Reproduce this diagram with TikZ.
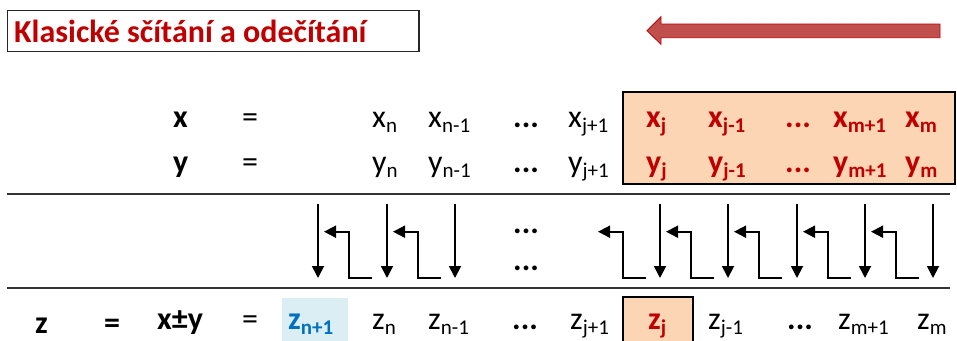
\documentclass[tikz,border=0pt]{standalone}
\usepackage{fontspec}
\setmainfont{Carlito}
\usetikzlibrary{arrows.meta}

\definecolor{titlered}{HTML}{C00000}
\definecolor{arrowred}{HTML}{C0504D}
\definecolor{peach}{HTML}{FCD5B4}
\definecolor{paleblue}{HTML}{DAEEF3}
\definecolor{carryblue}{HTML}{0070C0}

% index set lower and smaller, as in a spreadsheet cell
\newcommand{\ix}[1]{\raisebox{-5pt}{\fontsize{21}{24}\selectfont #1}}

\tikzset{
  cell/.style={anchor=base west, inner sep=0pt, font=\fontsize{32}{38}\selectfont},
  bcell/.style={cell, font=\fontsize{32}{38}\selectfont\bfseries},
  hot/.style={bcell, text=titlered},
  rule/.style={line width=1.6pt, black!80},
  flow/.style={line width=1.8pt, -{Triangle[width=12pt,length=12pt]}},
}

\begin{document}
\begin{tikzpicture}[x=1pt,y=-1pt]
\useasboundingbox (0,0) rectangle (957,340);

% heading and direction of the carry
\draw[line width=1.5pt, black!85] (7.3,10.7) rectangle (419,51.7);
\node[hot] (title) at (14,42.7) {Klasické sčítání a odečítání};
\filldraw[fill=arrowred, draw=titlered, line width=0.8pt]
  (647,30.7) -- (661,16.7) -- (661,24) -- (940,24) -- (940,37.7)
  -- (661,37.7) -- (661,44.3) -- cycle;

% highlighted cells
\filldraw[fill=peach, line width=2pt] (622.7,91.7) rectangle (955,184);
\fill[paleblue] (282,298) rectangle (348,345);
\filldraw[fill=peach, line width=2pt] (622.5,297) rectangle (693,345);

% operands
\foreach \v/\r in {x/127, y/172} {
  \node[bcell] (\v) at (173,\r) {\v};
  \node[cell] (\v-eq) at (242,\r) {=};
  \node[cell] (\v-n) at (372,\r) {\v\ix{n}};
  \node[cell] (\v-n1) at (428,\r) {\v\ix{n-1}};
  \node[bcell] (\v-dots) at (513,\r) {...};
  \node[cell] (\v-j1) at (568,\r) {\v\ix{j+1}};
  \node[hot] (\v-j) at (646,\r) {\v\ix{j}};
  \node[hot] (\v-jm) at (708,\r) {\v\ix{j-1}};
  \node[hot] (\v-mid) at (785,\r) {...};
  \node[hot] (\v-m1) at (833,\r) {\v\ix{m+1}};
  \node[hot] (\v-m) at (905,\r) {\v\ix{m}};
}

\draw[rule] (7,194) -- (950,194);
\draw[rule] (7,288) -- (950,288);

% digits going down, carries going left
\foreach \X in {318,387,455,660,728,797,865,933}
  \draw[flow] (\X,204) -- (\X,278);
\foreach \X in {318,387,592,660,728,797,865}
  \draw[flow] (\X+54,278) -- (\X+31,278) -- (\X+31,231.7) -- (\X+6,231.7);
\node[bcell] (gap-a) at (513,233) {...};
\node[bcell] (gap-b) at (513,270) {...};

% result
\node[bcell] (z) at (35,333) {z};
\node[bcell] (z-eq) at (104,333) {=};
\node[bcell] (z-op) at (157,329) {x±y};
\node[cell] (z-eq2) at (242,329) {=};
\node[bcell, text=carryblue] (z-n0) at (288,329) {z\ix{n+1}};
\node[cell] (z-n) at (372,329) {z\ix{n}};
\node[cell] (z-n1) at (428,329) {z\ix{n-1}};
\node[bcell] (z-dots) at (512,329) {...};
\node[cell] (z-j1) at (570,329) {z\ix{j+1}};
\node[hot] (z-j) at (648,329) {z\ix{j}};
\node[cell] (z-jm) at (708,329) {z\ix{j-1}};
\node[bcell] (z-mid) at (787,329) {...};
\node[cell] (z-m1) at (838,329) {z\ix{m+1}};
\node[cell] (z-m) at (917,329) {z\ix{m}};
\end{tikzpicture}
\end{document}
